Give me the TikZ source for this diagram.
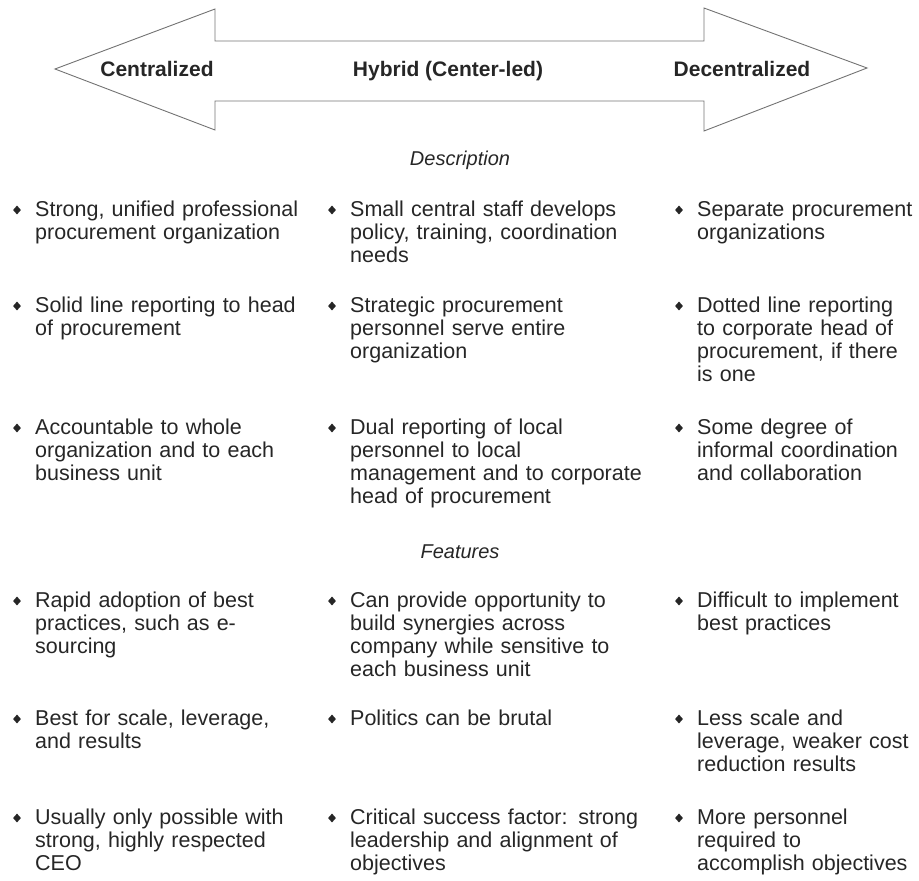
\documentclass[tikz,border=0pt]{standalone}
\usepackage{fontspec}
\setmainfont{Liberation Sans}
\usetikzlibrary{shapes.geometric}
\definecolor{ink}{gray}{0.15}
\definecolor{outline}{gray}{0.45}
\tikzset{
  item/.style={anchor=base west, inner sep=0pt, text width=330pt, align=left,
    text=ink, font=\fontsize{21.5}{23}\selectfont},
  bulletmark/.style={diamond, fill=ink, inner sep=0pt, minimum width=8pt, minimum height=9pt},
  heading/.style={anchor=base, inner sep=0pt, text=ink, font=\fontsize{21}{23}\selectfont\bfseries},
  section/.style={anchor=base, inner sep=0pt, text=ink, font=\fontsize{20}{23}\selectfont\itshape},
}
\newcommand{\entry}[4]{%
  \node[bulletmark] (#1b) at (#2-18,#3-6) {};
  \node[item] (#1) at (#2,#3) {#4};
}
\begin{document}
\begin{tikzpicture}[x=1pt,y=-1pt]
\useasboundingbox (0,0) rectangle (919,881);
% double-headed arrow spanning the spectrum
\draw[outline, line width=0.9pt, line join=miter]
  (55,69) -- (215,9) -- (215,41) -- (704,41) -- (704,8) -- (867,68)
  -- (704,131) -- (704,101) -- (215,101) -- (215,130) -- cycle;
\node[heading] (cen) at (157,76) {Centralized};
\node[heading] (hyb) at (448,76) {Hybrid (Center-led)};
\node[heading] (dec) at (742,76) {Decentralized};

\node[section] (desc) at (460,165) {Description};
\node[section] (feat) at (460,558) {Features};

% Description
\entry{a1}{35}{216}{Strong, unified professional\\procurement organization}
\entry{a2}{35}{312}{Solid line reporting to head\\of procurement}
\entry{a3}{35}{434}{Accountable to whole\\organization and to each\\business unit}
\entry{b1}{350}{216}{Small central staff develops\\policy, training, coordination\\needs}
\entry{b2}{350}{312}{Strategic procurement\\personnel serve entire\\organization}
\entry{b3}{350}{434}{Dual reporting of local\\personnel to local\\management and to corporate\\head of procurement}
\entry{c1}{697}{216}{Separate procurement\\organizations}
\entry{c2}{697}{312}{Dotted line reporting\\to corporate head of\\procurement, if there\\is one}
\entry{c3}{697}{434}{Some degree of\\informal coordination\\and collaboration}

% Features
\entry{a4}{35}{607}{Rapid adoption of best\\practices, such as e-\\sourcing}
\entry{a5}{35}{725}{Best for scale, leverage,\\and results}
\entry{a6}{35}{824}{Usually only possible with\\strong, highly respected\\CEO}
\entry{b4}{350}{607}{Can provide opportunity to\\build synergies across\\company while sensitive to\\each business unit}
\entry{b5}{350}{725}{Politics can be brutal}
\entry{b6}{350}{824}{Critical success factor: strong\\leadership and alignment of\\objectives}
\entry{c4}{697}{607}{Difficult to implement\\best practices}
\entry{c5}{697}{725}{Less scale and\\leverage, weaker cost\\reduction results}
\entry{c6}{697}{824}{More personnel\\required to\\accomplish objectives}
\end{tikzpicture}
\end{document}
